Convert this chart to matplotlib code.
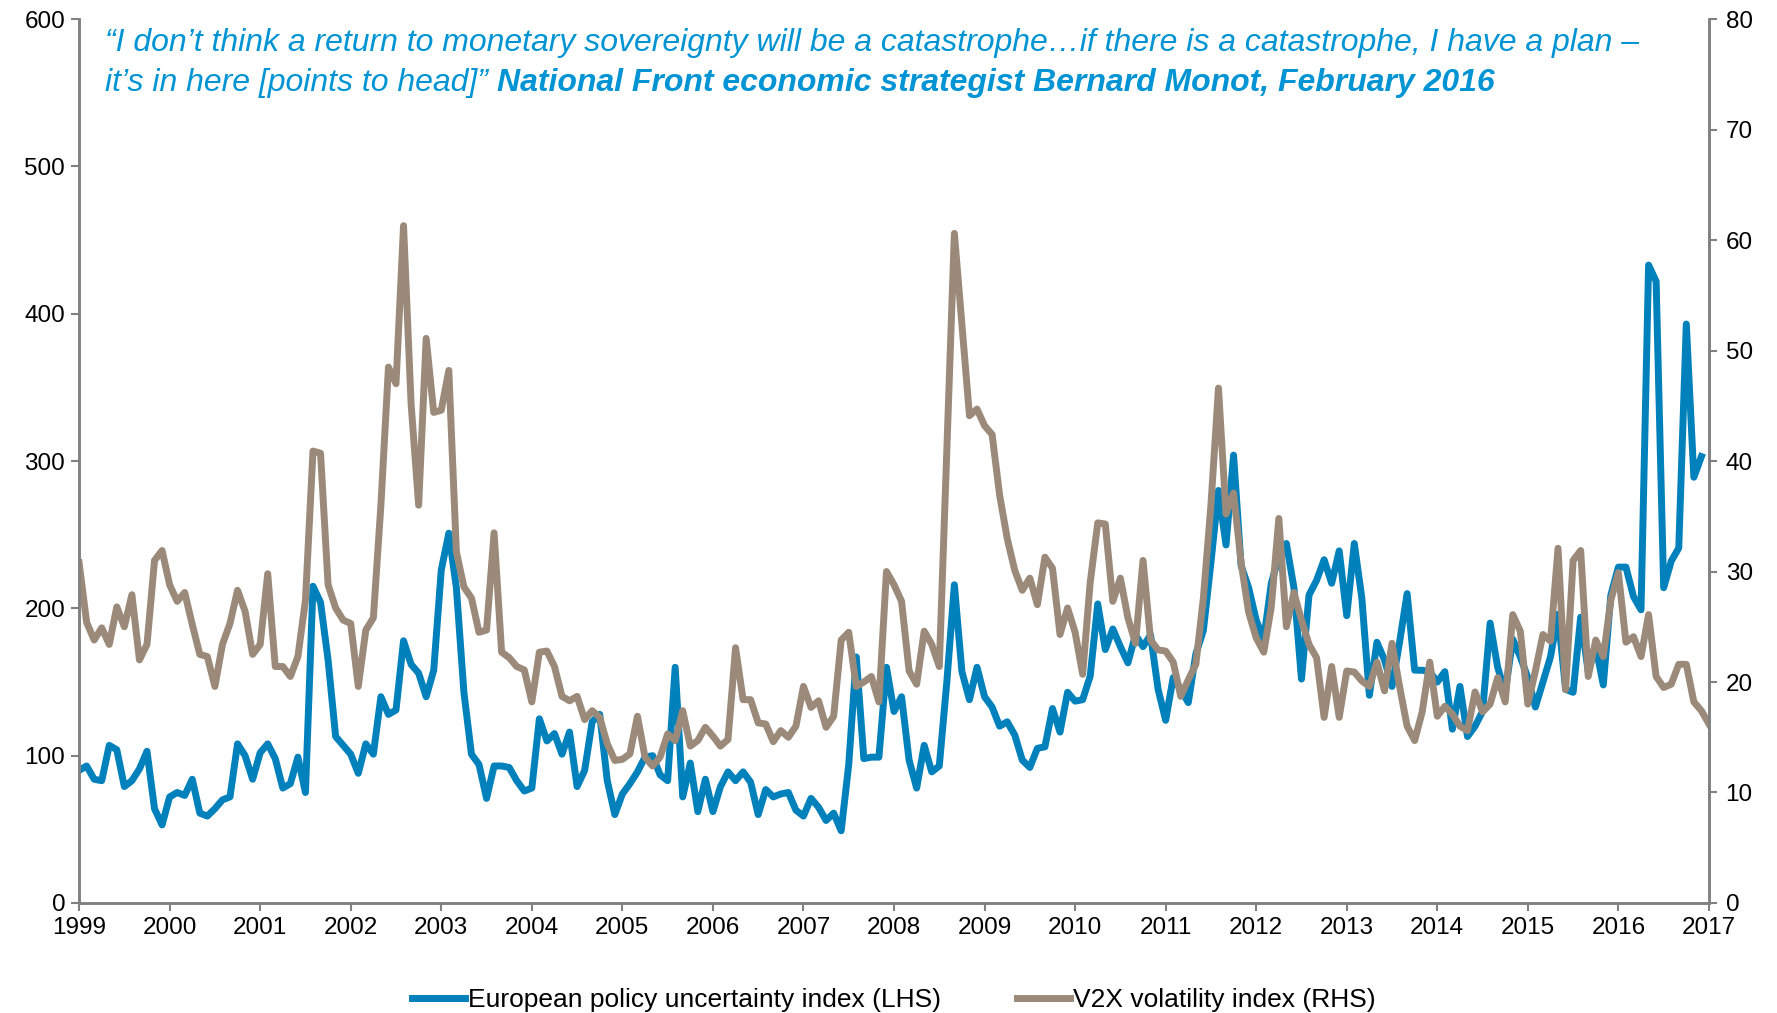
import numpy as np
import matplotlib
matplotlib.use("Agg")
import matplotlib.pyplot as plt

plt.rcParams["font.family"] = ["Liberation Sans", "DejaVu Sans"]

# Monthly European policy uncertainty index (LHS), Jan 1999 onward
epu = [
    90, 93, 84, 83, 107, 104, 79, 83, 91, 103, 64, 53,
    72, 75, 73, 84, 61, 59, 64, 70, 72, 108, 100, 84,
    102, 108, 98, 78, 81, 99, 75, 215, 204, 165, 113, 107,
    101, 88, 108, 101, 140, 128, 131, 178, 162, 156, 140, 158,
    226, 251, 214, 143, 101, 94, 71, 93, 93, 92, 83, 76,
    78, 125, 110, 115, 101, 116, 79, 90, 123, 128, 83, 60,
    74, 81, 89, 99, 100, 87, 83, 160, 72, 95, 62, 84,
    62, 79, 89, 83, 89, 82, 60, 77, 72, 74, 75, 63,
    59, 71, 65, 56, 61, 49, 94, 167, 98, 99, 99, 160,
    130, 140, 97, 78, 107, 89, 93, 150, 216, 157, 138, 160,
    140, 133, 120, 123, 114, 97, 92, 105, 106, 132, 116, 143,
    137, 138, 154, 203, 172, 186, 174, 163, 182, 174, 182, 145,
    124, 153, 145, 136, 169, 185, 231, 280, 243, 304, 229, 214,
    192, 179, 217, 235, 244, 214, 152, 209, 219, 233, 217, 239,
    195, 244, 207, 141, 177, 165, 147, 177, 210, 158, 158, 157,
    150, 157, 118, 147, 113, 120, 130, 190, 160, 143, 179, 167,
    153, 133, 150, 167, 196, 145, 143, 194, 157, 174, 148, 209,
    228, 228, 208, 199, 433, 422, 214, 232, 241, 393, 289, 303,
]

# Monthly V2X volatility index (RHS), Jan 1999 onward
v2x = [
    30.8, 25.4, 23.8, 24.9, 23.4, 26.8, 25.0, 27.9, 22.0, 23.4, 31.0, 31.9,
    28.8, 27.3, 28.1, 25.2, 22.5, 22.3, 19.6, 23.4, 25.3, 28.3, 26.4, 22.5,
    23.4, 29.8, 21.4, 21.4, 20.5, 22.3, 27.4, 40.9, 40.7, 28.8, 26.7, 25.6,
    25.3, 19.6, 24.7, 25.8, 36.0, 48.5, 47.0, 61.3, 45.2, 36.0, 51.1, 44.4,
    44.6, 48.2, 31.8, 28.6, 27.6, 24.5, 24.7, 33.5, 22.7, 22.2, 21.4, 21.1,
    18.2, 22.7, 22.8, 21.4, 18.7, 18.3, 18.7, 16.6, 17.4, 16.8, 14.4, 12.9,
    13.0, 13.5, 16.9, 13.2, 12.4, 13.2, 15.3, 14.7, 17.4, 14.2, 14.7, 15.9,
    15.1, 14.2, 14.8, 23.1, 18.4, 18.4, 16.3, 16.2, 14.6, 15.6, 15.0, 16.0,
    19.6, 17.7, 18.3, 15.9, 16.9, 23.8, 24.5, 19.6, 20.0, 20.5, 18.2, 30.0,
    28.8, 27.3, 21.0, 19.8, 24.6, 23.4, 21.4, 41.0, 60.6, 52.4, 44.1, 44.7,
    43.2, 42.4, 36.9, 33.0, 30.1, 28.3, 29.4, 27.0, 31.3, 30.3, 24.3, 26.7,
    24.5, 20.7, 29.0, 34.4, 34.3, 27.3, 29.4, 25.8, 23.5, 31.0, 23.8, 22.9,
    22.8, 21.8, 18.7, 20.2, 21.6, 27.6, 36.0, 46.6, 35.2, 37.1, 30.8, 26.3,
    24.0, 22.7, 26.8, 34.8, 25.0, 28.1, 25.6, 23.4, 22.2, 16.8, 21.4, 16.8,
    21.0, 20.9, 20.1, 19.6, 21.8, 19.2, 23.5, 19.6, 16.0, 14.7, 17.3, 21.8,
    16.9, 17.8, 17.1, 16.0, 15.6, 19.1, 17.3, 18.0, 20.4, 18.2, 26.1, 24.6,
    18.0, 21.0, 24.3, 23.7, 32.1, 19.3, 31.0, 31.9, 20.5, 23.8, 22.3, 27.4,
    29.9, 23.6, 24.1, 22.3, 26.1, 20.5, 19.5, 19.8, 21.6, 21.6, 18.2, 17.4,
    16.2,
]

years = list(range(1999, 2018))
lhs_ticks = [0, 100, 200, 300, 400, 500, 600]
rhs_ticks = [0, 10, 20, 30, 40, 50, 60, 70, 80]

BLUE = "#0081bb"
TAUPE = "#9b8a79"
QUOTE = "#0094d4"
SPINE = "#808080"

x_epu = 1999 + np.arange(len(epu)) / 12
x_v2x = 1999 + np.arange(len(v2x)) / 12

fig = plt.figure(figsize=(17.77, 10.13), dpi=100)
ax = fig.add_axes([0.0445, 0.1086, 0.9172, 0.8726])
ax2 = ax.twinx()

l1, = ax.plot(x_epu, epu, color=BLUE, lw=5, solid_joinstyle="round",
              label="European policy uncertainty index (LHS)")
l2, = ax2.plot(x_v2x, v2x, color=TAUPE, lw=5, solid_joinstyle="round",
               label="V2X volatility index (RHS)")

ax.set_xlim(1999, 2017)
ax.set_ylim(0, 600)
ax2.set_ylim(0, 80)
ax.set_xticks(years)
ax.set_xticklabels([str(y) for y in years])
ax.set_yticks(lhs_ticks)
ax2.set_yticks(rhs_ticks)

for a in (ax, ax2):
    a.spines["top"].set_visible(False)
    for s in ("left", "right", "bottom"):
        a.spines[s].set_color(SPINE)
        a.spines[s].set_linewidth(1.8)
    a.tick_params(axis="both", colors=SPINE, labelcolor="black",
                  labelsize=17.5, length=6, width=1.5, direction="out")
ax.tick_params(axis="x", pad=4)
ax.tick_params(axis="y", pad=4)
ax2.tick_params(axis="y", pad=6)

# quote in two lines; the attribution continues the second line in bold
t1 = ax.text(0.016, 0.973,
             "\u201cI don\u2019t think a return to monetary sovereignty will be a "
             "catastrophe\u2026if there is a catastrophe, I have a plan \u2013",
             transform=ax.transAxes, fontsize=23, style="italic",
             color=QUOTE, va="center", ha="left")
t2 = ax.text(0.016, 0.928, "it\u2019s in here [points to head]\u201d ",
             transform=ax.transAxes, fontsize=23, style="italic",
             color=QUOTE, va="center", ha="left")
ax.annotate("National Front economic strategist Bernard Monot, February 2016",
            xy=(1, 0.5), xycoords=t2, va="center", ha="left",
            fontsize=23, style="italic", weight="bold", color=QUOTE)

fig.legend(handles=[l1, l2], loc="center", bbox_to_anchor=(0.503, 0.013),
           ncol=2, frameon=False, fontsize=19, handlelength=2.0,
           handletextpad=0.1, columnspacing=2.9)

fig.savefig("out.png", dpi=100)
